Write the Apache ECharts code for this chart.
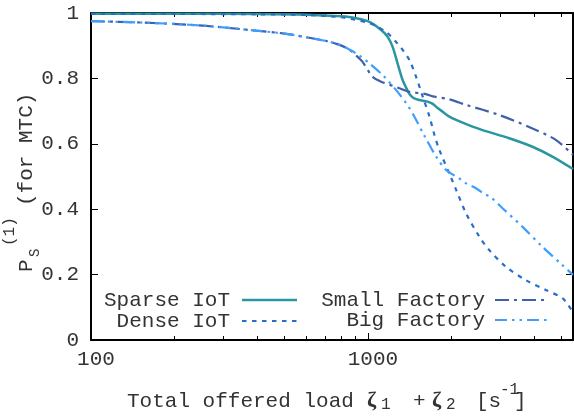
<!DOCTYPE html>
<html>
<head>
<meta charset="utf-8">
<script src="https://cdn.jsdelivr.net/npm/echarts@6/dist/echarts.min.js"></script>
<style>
  html, body { margin: 0; padding: 0; background: #fff; }
  #chart { width: 574px; height: 417px; }
</style>
</head>
<body>
<div id="chart"></div>
<script>
// Success probability of MTC traffic versus total offered load (log scale)
const seriesNames = ['Sparse IoT', 'Dense IoT', 'Small Factory', 'Big Factory'];

const sparseIoT = [
  [100, 0.998], [200, 0.998], [400, 0.997], [600, 0.995], [800, 0.99], [900, 0.985],
  [1012, 0.973], [1116, 0.948], [1178, 0.927], [1227, 0.897], [1279, 0.846], [1334, 0.795],
  [1380, 0.768], [1412, 0.752], [1460, 0.740], [1529, 0.734], [1640, 0.729], [1714, 0.722],
  [1780, 0.71], [1862, 0.698], [1968, 0.683], [2080, 0.673], [2300, 0.658], [2594, 0.642],
  [3236, 0.617], [3926, 0.591], [4634, 0.561], [5500, 0.523]
];
const denseIoT = [
  [100, 0.997], [200, 0.997], [400, 0.996], [600, 0.994], [800, 0.987], [881, 0.981],
  [1000, 0.97], [1072, 0.96], [1170, 0.94], [1262, 0.912], [1340, 0.885], [1412, 0.856],
  [1492, 0.805], [1577, 0.744], [1668, 0.683], [1738, 0.627], [1811, 0.581], [1995, 0.497],
  [2080, 0.46], [2262, 0.387], [2525, 0.316], [2741, 0.275], [3148, 0.224], [3716, 0.183],
  [4388, 0.153], [5036, 0.128], [5300, 0.105], [5500, 0.085]
];
const smallFactory = [
  [100, 0.975], [150, 0.971], [227, 0.964], [300, 0.956], [395, 0.946], [500, 0.937],
  [598, 0.926], [700, 0.915], [767, 0.906], [850, 0.89], [931, 0.861], [955, 0.851],
  [1040, 0.805], [1116, 0.79], [1299, 0.77], [1412, 0.759], [1619, 0.752], [1714, 0.745],
  [1968, 0.736], [2262, 0.719], [2979, 0.688], [3926, 0.647], [4766, 0.612], [5500, 0.566]
];
const bigFactory = [
  [100, 0.975], [150, 0.971], [227, 0.964], [300, 0.956], [395, 0.946], [500, 0.937],
  [598, 0.926], [700, 0.915], [767, 0.906], [850, 0.89], [931, 0.870], [1012, 0.846],
  [1130, 0.810], [1262, 0.765], [1374, 0.724], [1450, 0.693], [1598, 0.625], [1763, 0.561],
  [1915, 0.520], [2138, 0.494], [2262, 0.479], [2455, 0.464], [2594, 0.450], [2781, 0.436],
  [3062, 0.403], [3615, 0.346], [4266, 0.285], [5036, 0.229], [5500, 0.199]
];

const xMajorTicks = [100, 1000];
const xMinorTicks = [200, 300, 400, 500, 600, 700, 800, 900, 2000, 3000, 4000, 5000];
const xMin = 100, xMax = 5500;

const FONT = 'Liberation Mono';
const TXT = '#333';

const styles = [
  { color: '#2a96a0', width: 2.5, type: 'solid' },
  { color: '#2a6ec8', width: 2.2, type: [4.5, 5.5] },
  { color: '#4060aa', width: 2.2, type: [14, 5, 3, 5] },
  { color: '#3d9eff', width: 2.2, type: [12, 5, 2.5, 5, 2.5, 5] }
];
const seriesData = [sparseIoT, denseIoT, smallFactory, bigFactory];

const chart = echarts.init(document.getElementById('chart'), null, { renderer: 'canvas' });

function xAxisDef(position, ticks, len, withLine, withLabels) {
  return {
    type: 'log', logBase: 10, min: xMin, max: xMax, position: position,
    axisLine: { show: withLine, onZero: false, lineStyle: { color: '#000', width: 2 } },
    axisTick: { show: true, inside: true, length: len, customValues: ticks,
                lineStyle: { color: '#000', width: 1 } },
    axisLabel: withLabels ? {
      show: true, customValues: xMajorTicks, fontFamily: FONT, fontSize: 21, color: TXT,
      margin: 9, padding: [0, 0, 0, 10], formatter: (v) => String(Math.round(v))
    } : { show: false },
    splitLine: { show: false }, minorTick: { show: false }
  };
}

function yAxisDef(position, withLabels) {
  return {
    type: 'value', min: 0, max: 1, interval: 0.2, position: position,
    axisLine: { show: true, onZero: false, lineStyle: { color: '#000', width: 2 } },
    axisTick: { show: true, inside: true, length: 7, lineStyle: { color: '#000', width: 1 } },
    axisLabel: withLabels ? { show: true, fontFamily: FONT, fontSize: 21, color: TXT, margin: 12 }
                          : { show: false },
    splitLine: { show: false }
  };
}

// legend rows drawn as text plus a short line sample in each series' style
const legendRows = [
  { textRight: 230, lineX: [242, 297], y: 300 },
  { textRight: 230, lineX: [242, 297], y: 321 },
  { textRight: 485, lineX: [495, 547], y: 300 },
  { textRight: 485, lineX: [495, 547], y: 320 }
];
const legendGraphics = [];
legendRows.forEach((r, i) => {
  legendGraphics.push({
    type: 'text', x: r.textRight, y: r.y,
    style: { text: seriesNames[i], font: '21px "' + FONT + '"', fill: TXT, align: 'right', verticalAlign: 'middle' }
  });
  legendGraphics.push({
    type: 'line', shape: { x1: r.lineX[0], y1: r.y, x2: r.lineX[1], y2: r.y },
    style: { stroke: styles[i].color, lineWidth: styles[i].width,
             lineDash: styles[i].type === 'solid' ? null : styles[i].type }
  });
});

function t(text, x, y, size, opts) {
  return Object.assign({
    type: 'text', x: x, y: y,
    style: { text: text, font: size + 'px "' + FONT + '"', fill: TXT, align: 'left', verticalAlign: 'middle' }
  }, opts || {});
}
function zeta(x, y) {
  return { type: 'text', x: x, y: y,
    style: { text: 'ζ', font: 'bold 22px "Liberation Serif"', fill: TXT, align: 'left', verticalAlign: 'middle' } };
}
const R = Math.PI / 2;

const titleGraphics = [
  // x axis title
  t('Total offered load', 127, 401, 21),
  zeta(367, 401), t('1', 381, 405, 16),
  t('+', 413, 401, 21),
  zeta(432, 401), t('2', 446, 405, 16),
  t('[s', 476, 401, 21),
  t('-1', 500, 390, 16),
  t(']', 514, 401, 21),
  // y axis title (rotated)
  t('P', 26, 272, 21, { rotation: R }),
  t('S', 35, 257, 14, { rotation: R }),
  t('(1)', 10, 246, 16, { rotation: R }),
  t('(for MTC)', 26, 206, 21, { rotation: R })
];

chart.setOption({
  animation: false,
  backgroundColor: '#fff',
  grid: { left: 91, right: 1, top: 13, bottom: 77, containLabel: false },
  xAxis: [
    xAxisDef('bottom', xMajorTicks, 7, true, true),
    xAxisDef('bottom', xMinorTicks, 4, false, false),
    xAxisDef('top', xMajorTicks, 7, true, false),
    xAxisDef('top', xMinorTicks, 4, false, false)
  ],
  yAxis: [yAxisDef('left', true), yAxisDef('right', false)],
  series: seriesData.map((d, i) => ({
    name: seriesNames[i], type: 'line', data: d, xAxisIndex: 0, yAxisIndex: 0,
    showSymbol: false, symbol: 'none', smooth: 0.3, clip: true,
    lineStyle: { color: styles[i].color, width: styles[i].width, type: styles[i].type }
  })),
  graphic: legendGraphics.concat(titleGraphics)
});
</script>
</body>
</html>
